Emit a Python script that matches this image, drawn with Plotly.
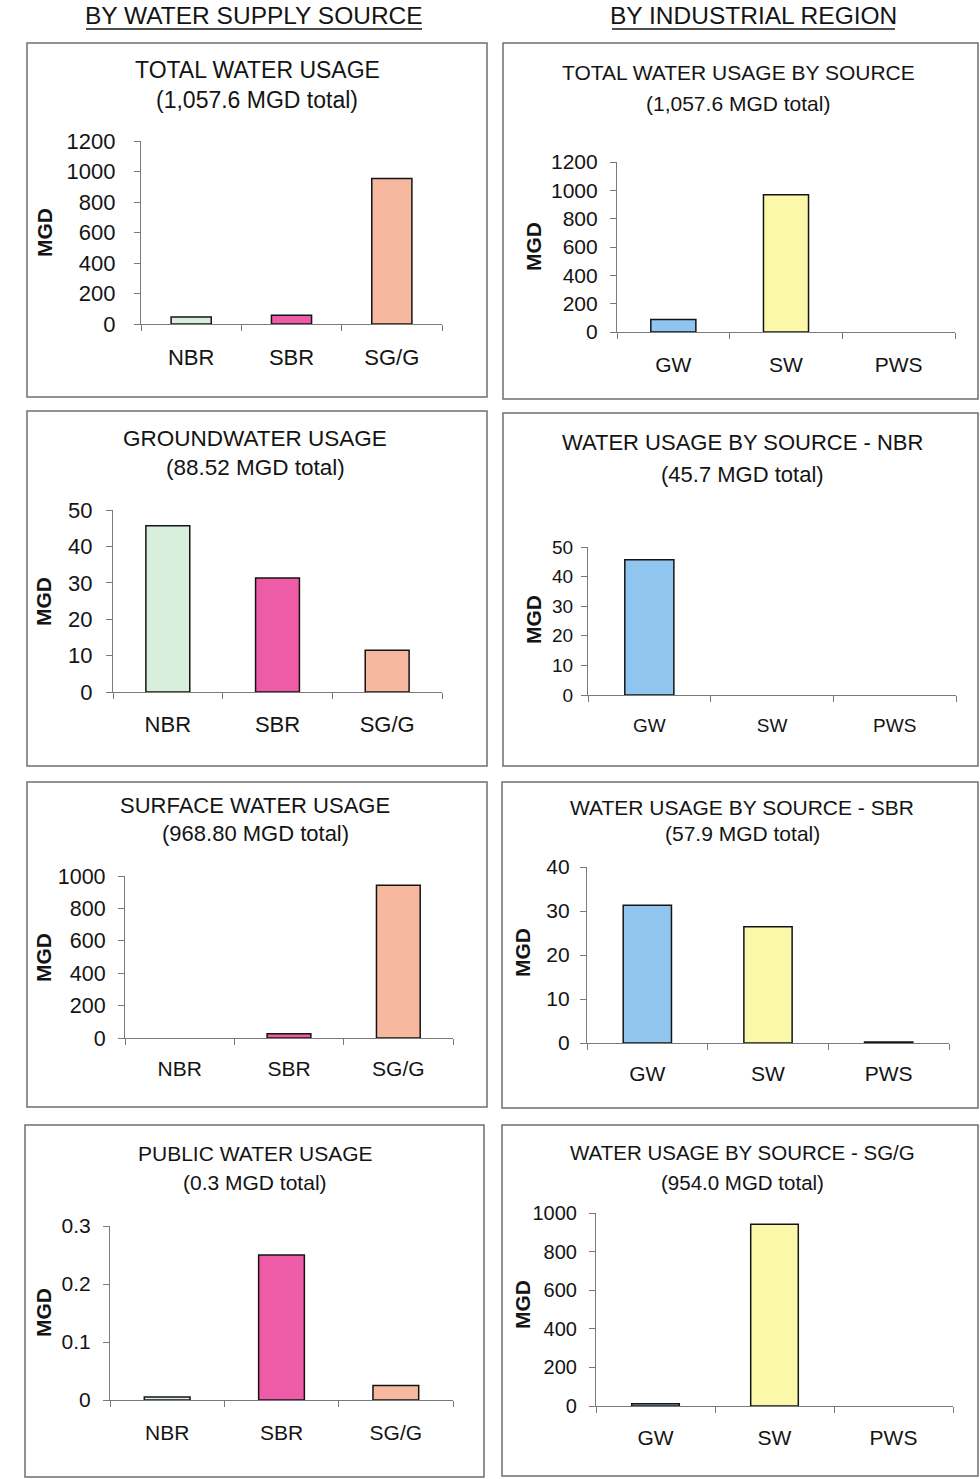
import plotly.graph_objects as go

# ---------------- data ----------------
regions = ["NBR", "SBR", "SG/G"]
sources = ["GW", "SW", "PWS"]

total_by_region = [45.7, 57.9, 954.0]
groundwater_by_region = [45.7, 31.3, 11.5]
surface_by_region = [0.0, 26.5, 942.3]
public_by_region = [0.005, 0.25, 0.025]

total_by_source = [88.52, 968.80, 0.3]
nbr_by_source = [45.7, 0.0, 0.005]
sbr_by_source = [31.3, 26.4, 0.25]
sgg_by_source = [11.5, 942.3, 0.025]

column_headers = ["BY WATER SUPPLY SOURCE", "BY INDUSTRIAL REGION"]
panel_titles = [
    ("TOTAL WATER USAGE", "(1,057.6 MGD total)"),
    ("TOTAL WATER USAGE BY SOURCE", "(1,057.6 MGD total)"),
    ("GROUNDWATER USAGE", "(88.52 MGD total)"),
    ("WATER USAGE BY SOURCE - NBR", "(45.7 MGD total)"),
    ("SURFACE WATER USAGE", "(968.80 MGD total)"),
    ("WATER USAGE BY SOURCE - SBR", "(57.9 MGD total)"),
    ("PUBLIC WATER USAGE", "(0.3 MGD total)"),
    ("WATER USAGE BY SOURCE - SG/G", "(954.0 MGD total)"),
]
y_label = "MGD"

# ---------------- style ----------------
region_colors = ["#d9efdd", "#ee5ba7", "#f6b99f"]
source_colors = ["#8fc5ef", "#fbf8a9", "#ffffff"]
FONT = "Liberation Sans, Arial, sans-serif"
TXT = "#141414"
AX = "#7a7a7a"
W, H = 980, 1479


def px(x):
    return x / W


def py(y):
    return 1 - y / H


panels = [
    dict(cats=regions, vals=total_by_region, cols=region_colors, ymax=1200, dtick=200,
         frame=(27, 43, 487, 397), plot=(141, 141, 442, 324), tf=23, kf=22, xf=22, ys=14, xs=13,
         tx=257, t1=70, t2=100, mx=45, my=233),
    dict(cats=sources, vals=total_by_source, cols=source_colors, ymax=1200, dtick=200,
         frame=(503, 43, 978, 399), plot=(617, 162, 955, 332), tf=21, kf=21, xf=21, ys=8, xs=14,
         tx=738, t1=73, t2=103, mx=533, my=247),
    dict(cats=regions, vals=groundwater_by_region, cols=region_colors, ymax=50, dtick=10,
         frame=(27, 411, 487, 766), plot=(113, 510, 442, 692), tf=22.5, kf=22, xf=22, ys=9, xs=12,
         tx=255, t1=438, t2=467, mx=43, my=602),
    dict(cats=sources, vals=nbr_by_source, cols=source_colors, ymax=50, dtick=10,
         frame=(503, 413, 978, 766), plot=(588, 547, 956, 695), tf=22, kf=19, xf=19, ys=4, xs=13,
         tx=742, t1=442, t2=475, mx=533, my=620),
    dict(cats=regions, vals=surface_by_region, cols=region_colors, ymax=1000, dtick=200,
         frame=(27, 782, 487, 1107), plot=(125, 876, 453, 1038), tf=22, kf=21.5, xf=21, ys=8, xs=12,
         tx=255, t1=805, t2=833, mx=43, my=958),
    dict(cats=sources, vals=sbr_by_source, cols=source_colors, ymax=40, dtick=10,
         frame=(502, 782, 978, 1108), plot=(587, 867, 949, 1043), tf=21, kf=21, xf=21, ys=6, xs=12,
         tx=742, t1=807, t2=833, mx=522, my=953),
    dict(cats=regions, vals=public_by_region, cols=region_colors, ymax=0.3, dtick=0.1,
         frame=(25, 1125, 484, 1477), plot=(110, 1226, 453, 1400), tf=21, kf=21, xf=21, ys=8, xs=14,
         tx=255, t1=1153, t2=1182, mx=43, my=1313),
    dict(cats=sources, vals=sgg_by_source, cols=source_colors, ymax=1000, dtick=200,
         frame=(502, 1125, 978, 1476), plot=(596, 1213, 953, 1406), tf=20.5, kf=20, xf=21, ys=8, xs=13,
         tx=742, t1=1152, t2=1182, mx=522, my=1305),
]

fig = go.Figure()
layout = dict(
    template="none",
    width=W, height=H, margin=dict(l=0, r=0, t=0, b=0, pad=0, autoexpand=False),
    paper_bgcolor="white", plot_bgcolor="rgba(0,0,0,0)",
    showlegend=False, bargap=0.6,
    font=dict(family=FONT, color=TXT),
)
annotations = []
shapes = []

for i, p in enumerate(panels):
    n = i + 1
    xa, ya = f"xaxis{n}", f"yaxis{n}"
    # bars too thin to see (less than ~0.3 px) get no outline, as in the original
    line_w = [1.5 if v / p["ymax"] > 0.002 else 0 for v in p["vals"]]
    fig.add_trace(go.Bar(
        x=p["cats"], y=p["vals"], xaxis=f"x{n}", yaxis=f"y{n}",
        marker=dict(color=p["cols"], line=dict(color="#141414", width=line_w)),
        hoverinfo="x+y",
    ))
    x0, y0, x1, y1 = p["plot"]
    layout[xa] = dict(
        domain=[px(x0), px(x1)], anchor=f"y{n}", type="category", automargin=False,
        range=[-0.5, 2.5], showgrid=False, zeroline=False,
        showline=True, linecolor=AX, linewidth=1.2,
        ticks="outside", tickson="boundaries", ticklen=6, tickcolor=AX, tickwidth=1.2,
        tickfont=dict(size=p["xf"], family=FONT, color=TXT),
        ticklabelstandoff=p["xs"], fixedrange=True,
    )
    layout[ya] = dict(
        domain=[py(y1), py(y0)], anchor=f"x{n}", automargin=False,
        range=[0, p["ymax"]], dtick=p["dtick"], tick0=0,
        showgrid=False, zeroline=False,
        showline=True, linecolor=AX, linewidth=1.2,
        ticks="outside", ticklen=6, tickcolor=AX, tickwidth=1.2,
        tickfont=dict(size=p["kf"], family=FONT, color=TXT),
        ticklabelstandoff=p["ys"], fixedrange=True,
    )
    fx0, fy0, fx1, fy1 = p["frame"]
    shapes.append(dict(type="rect", xref="paper", yref="paper",
                       x0=px(fx0), x1=px(fx1), y0=py(fy1), y1=py(fy0),
                       line=dict(color="#6f6f6f", width=1.5), fillcolor="rgba(0,0,0,0)"))
    l1, l2 = panel_titles[i]
    for txt, yy in ((l1, p["t1"]), (l2, p["t2"])):
        annotations.append(dict(text=txt, x=px(p["tx"]), y=py(yy), xref="paper", yref="paper",
                                xanchor="center", yanchor="middle", showarrow=False,
                                font=dict(size=p["tf"], family=FONT, color=TXT)))
    annotations.append(dict(text=f"<b>{y_label}</b>", x=px(p["mx"]), y=py(p["my"]),
                            xref="paper", yref="paper",
                            xanchor="center", yanchor="middle", showarrow=False, textangle=-90,
                            font=dict(size=21, family=FONT, color=TXT)))

for txt, cx, (ux0, ux1) in ((column_headers[0], 254, (86, 422)), (column_headers[1], 753, (612, 895))):
    annotations.append(dict(text=txt, x=px(cx), y=py(15), xref="paper", yref="paper",
                            xanchor="center", yanchor="middle", showarrow=False,
                            font=dict(size=24.5, family=FONT, color=TXT)))
    shapes.append(dict(type="line", xref="paper", yref="paper",
                       x0=px(ux0), x1=px(ux1), y0=py(29), y1=py(29),
                       line=dict(color=TXT, width=1.5)))

layout["annotations"] = annotations
layout["shapes"] = shapes
fig.update_layout(**layout)
fig.write_html(
    "out.html",
    config={"displayModeBar": False},
    post_script="document.body.style.margin='0';document.body.style.overflow='hidden';",
)
